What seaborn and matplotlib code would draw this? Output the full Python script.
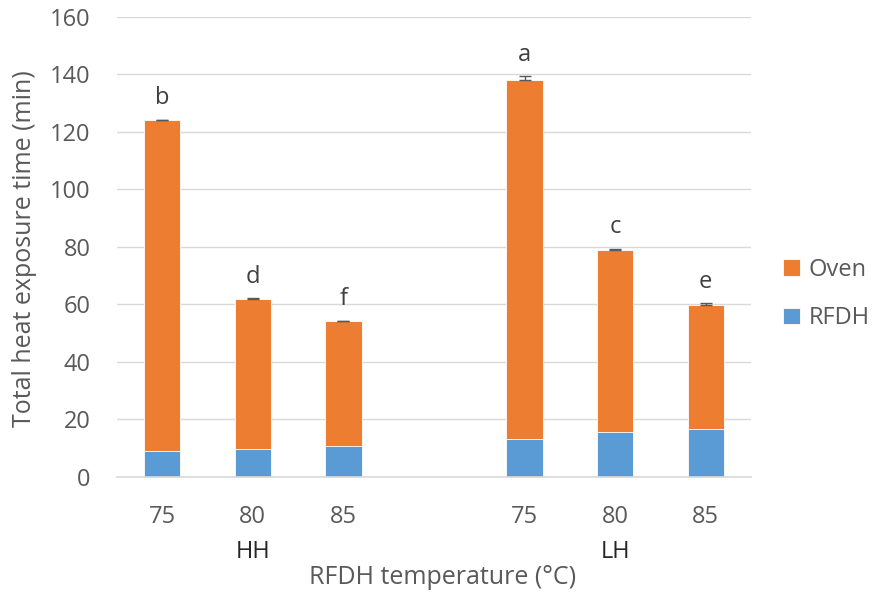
import numpy as np
import pandas as pd
import matplotlib
matplotlib.use("Agg")
import matplotlib.pyplot as plt
import seaborn as sns

# ── Data ────────────────────────────────────────────────────────────────────
groups = ["HH", "HH", "HH", "LH", "LH", "LH"]
temps = ["75", "80", "85", "75", "80", "85"]
rfdh = [9.0, 9.8, 10.9, 13.2, 15.8, 16.7]
total = [124.0, 61.8, 54.1, 138.1, 78.8, 59.8]
total_err = [0.3, 0.3, 0.2, 1.2, 0.4, 0.6]
letters = ["b", "d", "f", "a", "c", "e"]

ORANGE = "#ED7D31"
BLUE = "#5B9BD5"
GREY = "#595959"

slots = ["HH-75", "HH-80", "HH-85", "gap", "LH-75", "LH-80", "LH-85"]
keys = [f"{g}-{t}" for g, t in zip(groups, temps)]
df = pd.DataFrame({"key": keys, "rfdh": rfdh, "total": total})

sns.set_style("white")
plt.rcParams["font.family"] = ["Open Sans", "DejaVu Sans"]

fig = plt.figure(figsize=(8.76, 5.96), dpi=100)
ax = fig.add_axes([0.1336, 0.1997, 0.7236, 0.7718])

sns.barplot(data=df, x="key", y="total", order=slots, color=ORANGE,
            width=0.4, saturation=1, ax=ax, label="Oven", errorbar=None,
            edgecolor="white", linewidth=0.6)
sns.barplot(data=df, x="key", y="rfdh", order=slots, color=BLUE,
            width=0.4, saturation=1, ax=ax, label="RFDH", errorbar=None,
            edgecolor="white", linewidth=0.6)

# error bars (plus side only) and significance letters
xpos = [slots.index(k) for k in keys]
ax.errorbar(xpos, total, yerr=[np.zeros(len(total)), total_err], fmt="none",
            ecolor=GREY, elinewidth=1, capsize=4, capthick=1, zorder=5)
for x, t, e, l in zip(xpos, total, total_err, letters):
    ax.text(x, t + e + 5.5, l, ha="center", va="baseline", fontsize=17,
            color="#404040")

ax.set_ylim(0, 160)
ax.set_yticks(range(0, 161, 20))
ax.set_xlim(-0.5, 6.5)
ax.yaxis.grid(True, color="#D9D9D9", linewidth=1)
ax.set_axisbelow(True)
for s in ["top", "right", "left"]:
    ax.spines[s].set_visible(False)
ax.spines["bottom"].set_color("#D9D9D9")
ax.spines["bottom"].set_linewidth(1.2)

ax.set_xticks(range(len(slots)))
ax.set_xticklabels([k.split("-")[1] if k != "gap" else "" for k in slots])
ax.tick_params(axis="both", length=0, labelsize=17, labelcolor=GREY)
ax.tick_params(axis="x", pad=20)
ax.tick_params(axis="y", pad=19)
ax.set_xlabel("")
ax.set_ylabel("")

for g, x in [("HH", 1), ("LH", 5)]:
    ax.text(x, -0.163, g, transform=ax.get_xaxis_transform(), ha="center",
            va="center", fontsize=17, color="#262626")

fig.text(443 / 876, 1 - 577 / 596, "RFDH temperature (°C)", ha="center",
         va="center", fontsize=18, color=GREY)
fig.text(25 / 876, 1 - 249 / 596, "Total heat exposure time (min)", ha="center",
         va="center", rotation=90, fontsize=18, color=GREY)

ax.legend(loc="center left", bbox_to_anchor=(783 / 876, 1 - 294 / 596),
          bbox_transform=fig.transFigure, frameon=False, borderpad=0,
          borderaxespad=0, fontsize=17, labelcolor=GREY, handlelength=0.7,
          handleheight=0.7, handletextpad=0.4, labelspacing=1.05)

fig.savefig("out.png", dpi=100)
